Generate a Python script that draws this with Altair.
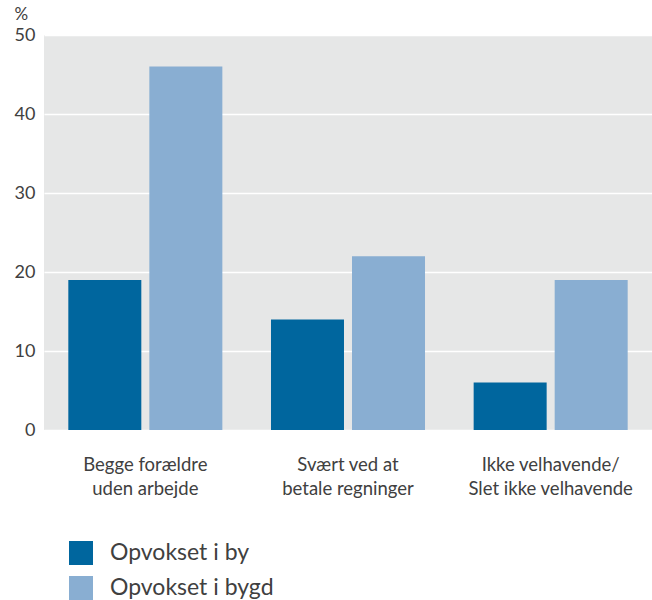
import altair as alt
import pandas as pd

categories = ["Begge forældre|uden arbejde", "Svært ved at|betale regninger", "Ikke velhavende/|Slet ikke velhavende"]
groups = ["Opvokset i by", "Opvokset i bygd"]
by_values = [19, 14, 6]
bygd_values = [46, 22, 19]
y_ticks = [0, 10, 20, 30, 40, 50]

rows = []
for cat, v1, v2 in zip(categories, by_values, bygd_values):
    rows.append({"kategori": cat, "gruppe": groups[0], "andel": v1})
    rows.append({"kategori": cat, "gruppe": groups[1], "andel": v2})
df = pd.DataFrame(rows)

FONT = "Lato"
TEXT = "#404040"

chart = alt.Chart(df).mark_bar().encode(
    x=alt.X(
        "kategori:N",
        sort=categories,
        scale=alt.Scale(paddingInner=0.24, paddingOuter=0.12),
        axis=alt.Axis(
            title=None,
            labelAngle=0,
            labelExpr="split(datum.label, '|')",
            labelFontSize=18.5,
            labelLineHeight=24,
            labelPadding=25,
            labelColor=TEXT,
            labelFont=FONT,
            labelLimit=300,
            domain=False,
            ticks=False,
        ),
    ),
    xOffset=alt.XOffset("gruppe:N", sort=groups, scale=alt.Scale(paddingInner=0.099, paddingOuter=0)),
    y=alt.Y(
        "andel:Q",
        scale=alt.Scale(domain=[0, 50], nice=False),
        axis=alt.Axis(
            values=y_ticks,
            title="%",
            titleAngle=0,
            titleX=-30,
            titleY=-12,
            titleAlign="left",
            titleBaseline="bottom",
            titleFontSize=17,
            titleFontWeight="normal",
            titleColor=TEXT,
            titleFont=FONT,
            labelFontSize=18,
            labelColor=TEXT,
            labelFont=FONT,
            labelPadding=9,
            domain=False,
            ticks=False,
            gridColor="white",
            gridWidth=1.5,
        ),
    ),
    color=alt.Color(
        "gruppe:N",
        sort=groups,
        scale=alt.Scale(domain=groups, range=["#00669E", "#89AED2"]),
        legend=alt.Legend(
            title=None,
            orient="none",
            legendX=25,
            legendY=506,
            direction="vertical",
            symbolType="square",
            symbolSize=576,
            symbolStrokeWidth=0,
            symbolOpacity=1,
            labelFontSize=23,
            labelFont=FONT,
            labelColor=TEXT,
            labelLimit=400,
            labelOffset=17,
            rowPadding=11,
            padding=0,
        ),
    ),
).properties(
    width=608,
    height=395,
    background="white",
    autosize=alt.AutoSizeParams(type="none"),
    padding={"left": 44, "top": 35, "right": 0, "bottom": 170},
).configure_view(
    fill="#E6E7E7",
    stroke=None,
)

chart.save("out.html", embed_options={"renderer": "svg", "actions": False})
